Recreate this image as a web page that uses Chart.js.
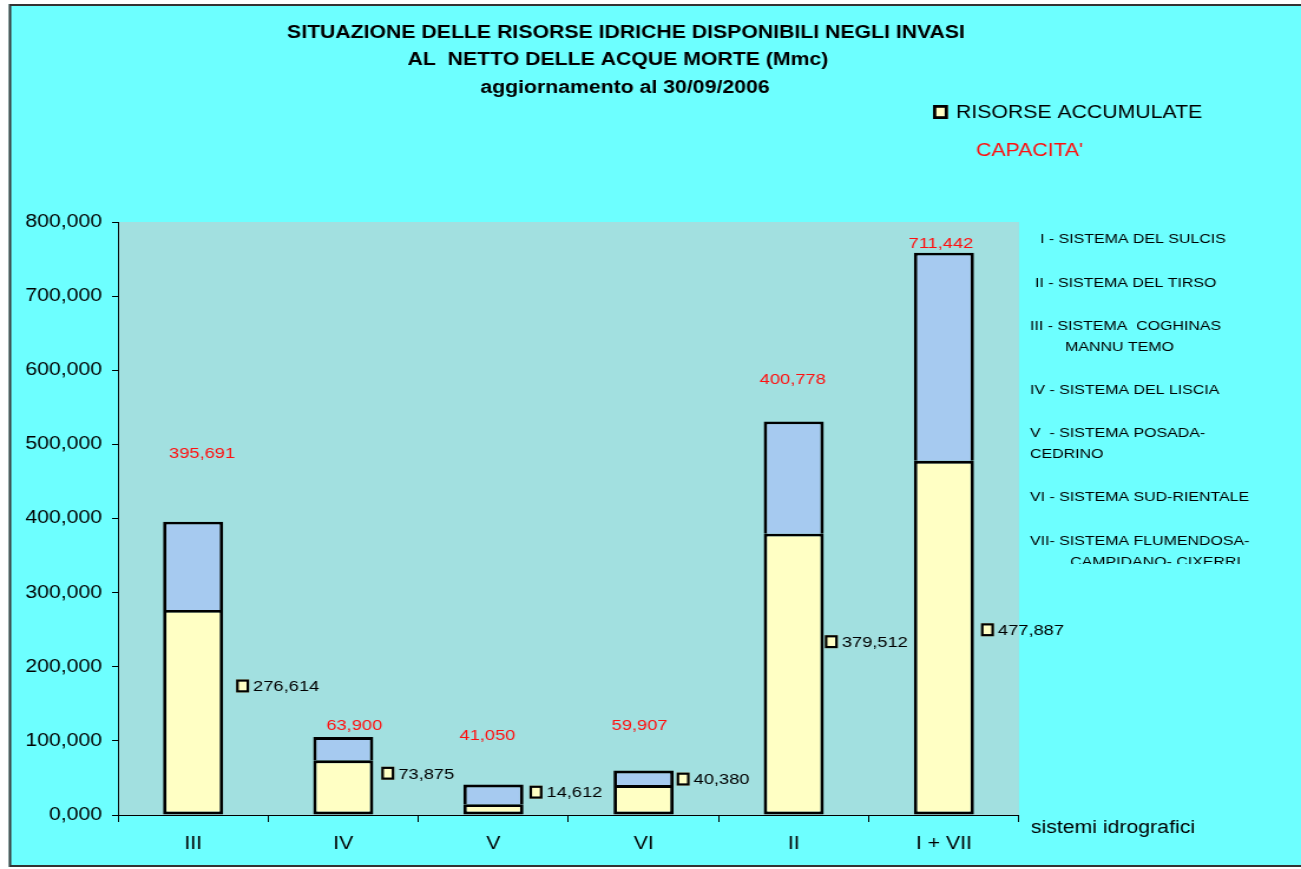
<!DOCTYPE html>
<html><head><meta charset="utf-8">
<script src="https://cdn.jsdelivr.net/npm/chart.js@4/dist/chart.umd.min.js"></script>
<style>
html,body{margin:0;padding:0;background:#fff;overflow:hidden}
</style></head>
<body><canvas id="c" width="1103" height="869" style="display:block;width:1301px;height:869px"></canvas>
<script>
// ---- data ----
const categories = ['III', 'IV', 'V', 'VI', 'II', 'I + VII'];
const accumulated = [276.614, 73.875, 14.612, 40.380, 379.512, 477.887];   // RISORSE ACCUMULATE
const barTops = [395.691, 105.2, 41.05, 59.907, 531.0, 758.6];              // top of each stacked bar
const capacityLabels = [395.691, 63.900, 41.050, 59.907, 400.778, 711.442]; // red CAPACITA' labels
const yTickValues = [0, 100, 200, 300, 400, 500, 600, 700, 800];
const titleLines = ['SITUAZIONE DELLE RISORSE IDRICHE DISPONIBILI NEGLI INVASI', 'AL  NETTO DELLE ACQUE MORTE (Mmc)', 'aggiornamento al 30/09/2006'];
const systemNotes = ['I - SISTEMA DEL SULCIS', 'II - SISTEMA DEL TIRSO', 'III - SISTEMA  COGHINAS', 'MANNU TEMO', 'IV - SISTEMA DEL LISCIA', 'V  - SISTEMA POSADA-', 'CEDRINO', 'VI - SISTEMA SUD-RIENTALE', 'VII- SISTEMA FLUMENDOSA-', 'CAMPIDANO- CIXERRI'];

const remaining = barTops.map((t, i) => +(t - accumulated[i]).toFixed(3));

// ---- layout helpers (canvas is stretched horizontally) ----
const S = 1301 / 1103;
const X = px => px / S;
const FONT = '"Liberation Sans", Arial, sans-serif';
const fmt = v => v.toFixed(3).replace('.', ',');

const decor = {
  id: 'decor',
  beforeDraw(chart) {
    const ctx = chart.ctx, W = chart.width;
    ctx.save();
    ctx.fillStyle = '#ffffff'; ctx.fillRect(0, 0, W, chart.height);
    ctx.fillStyle = '#6DFFFF'; ctx.fillRect(X(9), 4, W - X(9), 863);
    ctx.strokeStyle = '#333'; ctx.lineWidth = 2;
    ctx.beginPath(); ctx.moveTo(W + 2, 5); ctx.lineTo(X(10), 5); ctx.lineTo(X(10), 866); ctx.lineTo(W + 2, 866); ctx.stroke();
    const a = chart.chartArea;
    ctx.fillStyle = '#A2E0E0'; ctx.fillRect(a.left, a.top, a.right - a.left, a.bottom - a.top);
    ctx.restore();
  },
  afterDatasetsDraw(chart, args, opts) {
    const ctx = chart.ctx;
    const m0 = chart.getDatasetMeta(0).data, m1 = chart.getDatasetMeta(1).data;
    ctx.save();
    ctx.font = '15.5px ' + FONT;
    ctx.textBaseline = 'middle';
    m0.forEach((bar, i) => {
      const right = bar.x + bar.width / 2;
      const mx = right + X(opts.accDx[i]);
      const my = bar.y + opts.accDy[i];
      ctx.fillStyle = '#FFFFC4'; ctx.fillRect(mx, my - 6.5, X(13), 13);
      ctx.strokeStyle = '#000'; ctx.lineWidth = 2.2; ctx.strokeRect(mx + 1.1, my - 5.4, X(13) - 2.2, 10.8);
      ctx.fillStyle = '#000'; ctx.textAlign = 'left';
      ctx.fillText(fmt(accumulated[i]), mx + X(17), my + 1);
      const top = m1[i];
      ctx.fillStyle = '#FF1010'; ctx.textAlign = 'center';
      ctx.fillText(fmt(capacityLabels[i]), top.x + X(opts.capDx[i]), top.y + opts.capDy[i]);
    });
    ctx.restore();
  },
  afterDraw(chart) {
    const ctx = chart.ctx;
    ctx.save();
    ctx.textBaseline = 'middle';
    ctx.fillStyle = '#000';
    ctx.font = 'bold 18px ' + FONT; ctx.textAlign = 'center';
    const tx = [626, 618, 625], ty = [33, 60, 88];
    titleLines.forEach((t, i) => ctx.fillText(t, X(tx[i]), ty[i]));
    // legend
    ctx.fillStyle = '#FFFFC4'; ctx.fillRect(X(933), 105, X(15), 14);
    ctx.strokeStyle = '#000'; ctx.lineWidth = 2.8; ctx.strokeRect(X(933) + 1.4, 106.4, X(15) - 2.8, 11.2);
    ctx.fillStyle = '#000'; ctx.textAlign = 'left'; ctx.font = '18px ' + FONT;
    ctx.fillText('RISORSE ACCUMULATE', X(956), 113);
    ctx.fillStyle = '#FF1010';
    ctx.fillText("CAPACITA'", X(976), 151);
    // axis title
    ctx.fillStyle = '#000';
    ctx.fillText('sistemi idrografici', X(1031), 828);
    // system notes (clipped box)
    ctx.beginPath(); ctx.rect(X(1020), 222, X(281), 342); ctx.clip();
    ctx.font = '13.5px ' + FONT;
    const nx = [1040, 1035, 1030, 1065, 1030, 1030, 1030, 1030, 1030, 1070];
    const ny = [239, 283, 326, 347, 390, 433, 454, 497, 541, 562];
    systemNotes.forEach((t, i) => ctx.fillText(t, X(nx[i]), ny[i]));
    ctx.restore();
  }
};

const chart = new Chart(document.getElementById('c'), {
  type: 'bar',
  data: {
    labels: categories,
    datasets: [
      { label: 'RISORSE ACCUMULATE', data: accumulated, backgroundColor: '#FFFFC4', borderColor: '#000', borderWidth: 2.9, borderSkipped: false },
      { label: "CAPACITA'", data: remaining, backgroundColor: '#A6CAF0', borderColor: '#000', borderWidth: 2.9, borderSkipped: 'bottom' }
    ]
  },
  options: {
    responsive: false,
    animation: false,
    events: [],
    layout: { padding: { left: 0, right: X(282), top: 222, bottom: 0 } },
    datasets: { bar: { barPercentage: 0.4, categoryPercentage: 1 } },
    plugins: {
      legend: { display: false },
      title: { display: false },
      tooltip: { enabled: false },
      decor: {
        accDx: [13, 8, 6, 3, 1, 7],
        accDy: [76, 13, -12, -6, 108, 169],
        capDx: [9, 11, -6, -4, -1, -3],
        capDy: [-68, -11, -49, -45, -42, -9]
      }
    },
    scales: {
      x: {
        stacked: true,
        afterFit: s => { s.height = 54; },
        grid: { offset: true, drawOnChartArea: false, drawTicks: true, tickLength: 7, color: '#000', lineWidth: 1 },
        border: { display: true, color: '#000', width: 1 },
        ticks: { color: '#000', font: { family: FONT, size: 18 }, padding: 11, maxRotation: 0 }
      },
      y: {
        stacked: true,
        min: 0, max: 800,
        afterFit: s => { s.width = X(118); },
        afterBuildTicks: s => { s.ticks = yTickValues.map(v => ({ value: v })); },
        grid: { drawOnChartArea: false, drawTicks: true, tickLength: X(6), color: '#000', lineWidth: 1 },
        border: { display: true, color: '#000', width: 1 },
        ticks: { color: '#000', font: { family: FONT, size: 18 }, padding: X(10), callback: v => fmt(v) }
      }
    }
  },
  plugins: [decor]
});
chart.canvas.style.width = '1301px';
chart.canvas.style.height = '869px';
</script>
</body></html>
